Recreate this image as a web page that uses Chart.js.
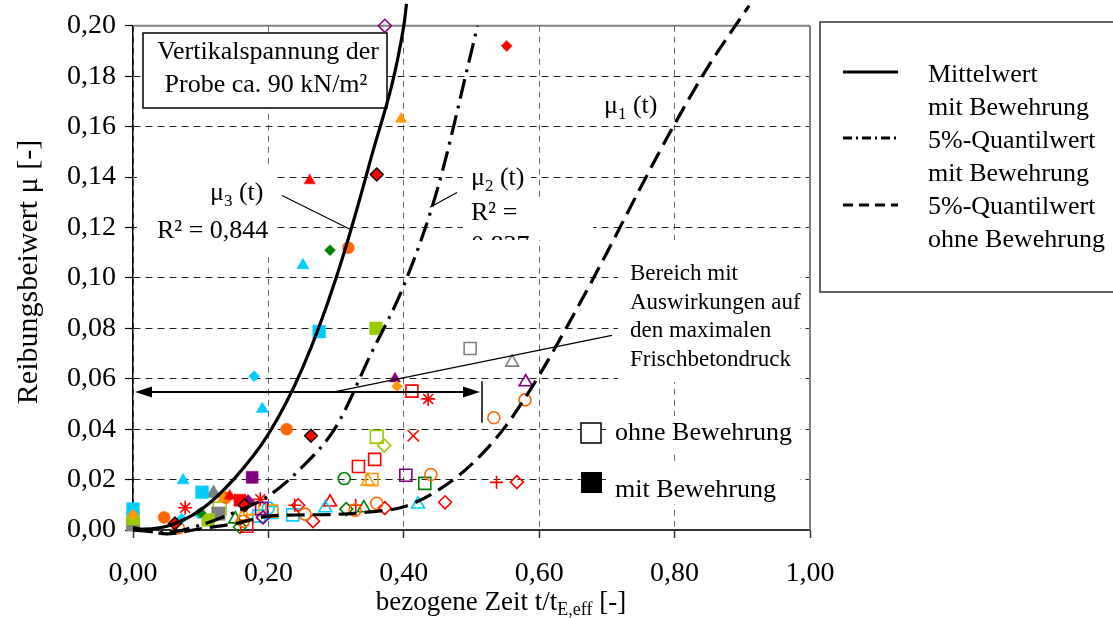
<!DOCTYPE html>
<html lang="de">
<head>
<meta charset="UTF-8">
<title>Reibungsbeiwert über bezogene Zeit</title>
<script src="https://cdn.jsdelivr.net/npm/chart.js"></script>
<style>
  body { margin: 0; background: #fff; }
  #diagramm { display: block; }
</style>
</head>
<body>
<canvas id="diagramm" width="1113" height="618"></canvas>
<script>
  // Messpunkte [t/tE,eff, mu] - mit Bewehrung (gefüllte Marker)
  const rotDreieckMit = [[0.261, 0.1386], [0.143, 0.0135]];
  const rotRauteMit = [[0.552, 0.192]];
  const rotRauteRandMit = [[0.360, 0.141], [0.263, 0.0374], [0.165, 0.0098], [0.062, 0.0026]];
  const rotQuadratMit = [[0.158, 0.0118]];
  const orangeDreieckMit = [[0.396, 0.163], [0.133, 0.0126]];
  const orangeKreisMit = [[0.318, 0.112], [0.227, 0.040], [0.046, 0.005], [0.137, 0.0128]];
  const orangeRauteMit = [[0.390, 0.057], [0.0, 0.006]];
  const gruenRauteMit = [[0.291, 0.111], [0.100, 0.0068]];
  const cyanDreieckMit = [[0.251, 0.105], [0.191, 0.048], [0.074, 0.0197]];
  const cyanQuadratMit = [[0.275, 0.0787], [0.102, 0.015], [0.0, 0.0083]];
  const cyanRauteMit = [[0.179, 0.061], [0.072, 0.0045], [0.097, 0.0065]];
  const limeQuadratMit = [[0.359, 0.080], [0.111, 0.004], [0.0, 0.0045]];
  const lilaQuadratMit = [[0.176, 0.0209]];
  const lilaDreieckMit = [[0.387, 0.060]];
  const lilaRauteMit = [[0.170, 0.0115]];
  const grauDreieckMit = [[0.119, 0.0146]];
  const grauQuadratMit = [[0.126, 0.0065], [0.0, 0.0022]];

  // Messpunkte - ohne Bewehrung (hohle Marker)
  const grauQuadratOhne = [[0.498, 0.072]];
  const grauDreieckOhne = [[0.560, 0.0665]];
  const lilaDreieckOhne = [[0.580, 0.0587]];
  const lilaRauteOhne = [[0.372, 0.200], [0.192, 0.005]];
  const lilaQuadratOhne = [[0.403, 0.0217], [0.190, 0.0085]];
  const orangeKreisOhne = [[0.579, 0.0516], [0.533, 0.0445], [0.440, 0.022], [0.360, 0.0106], [0.328, 0.0079], [0.254, 0.0063], [0.067, 0.0008], [0.163, 0.0035]];
  const rotQuadratOhne = [[0.412, 0.0551], [0.333, 0.0252], [0.357, 0.028], [0.168, 0.0015]];
  const rotSternOhne = [[0.436, 0.052], [0.077, 0.0088], [0.188, 0.0122]];
  const rotKreuzOhne = [[0.414, 0.0374]];
  const limeQuadratOhne = [[0.360, 0.037], [0.128, 0.0085]];
  const limeRauteOhne = [[0.371, 0.0335]];
  const gruenKreisOhne = [[0.312, 0.0204]];
  const orangeQuadratOhne = [[0.353, 0.020], [0.177, 0.0085], [0.205, 0.0075]];
  const orangeDreieckOhne = [[0.347, 0.0193], [0.161, 0.0048]];
  const gruenQuadratOhne = [[0.431, 0.0185]];
  const rotPlusOhne = [[0.537, 0.0189], [0.239, 0.0098], [0.329, 0.0098]];
  const rotRauteOhne = [[0.567, 0.019], [0.461, 0.011], [0.244, 0.0098], [0.266, 0.0035], [0.372, 0.0087]];
  const cyanDreieckOhne = [[0.421, 0.0102], [0.284, 0.0087]];
  const rotDreieckOhne = [[0.291, 0.011]];
  const cyanQuadratOhne = [[0.236, 0.006], [0.205, 0.007], [0.186, 0.0055]];
  const cyanKreisOhne = [[0.200, 0.0088]];
  const gruenRauteOhne = [[0.315, 0.0083], [0.158, 0.0012]];
  const gruenDreieckOhne = [[0.341, 0.0087], [0.151, 0.0043]];

  // Ausgleichskurven mu(t)
  const mu1T = [0, 0.05, 0.10, 0.15, 0.20, 0.25, 0.30, 0.35, 0.40, 0.45, 0.50, 0.55, 0.60, 0.65, 0.70, 0.75, 0.80, 0.85, 0.91];
  const mu1 = [0.001, -0.0015, 0.0005, 0.0025, 0.0055, 0.006, 0.0062, 0.0072, 0.0092, 0.0157, 0.026, 0.041, 0.0614, 0.085, 0.110, 0.136, 0.161, 0.184, 0.208];
  const mu2T = [0, 0.05, 0.10, 0.15, 0.20, 0.25, 0.30, 0.35, 0.40, 0.45, 0.50, 0.509];
  const mu2 = [0, -0.001, 0.002, 0.007, 0.0135, 0.025, 0.041, 0.069, 0.097, 0.1355, 0.19, 0.200];
  const mu3T = [0, 0.05, 0.10, 0.15, 0.20, 0.25, 0.30, 0.35, 0.40, 0.404];
  const mu3 = [0, 0.0015, 0.008, 0.0205, 0.038, 0.064, 0.100, 0.146, 0.200, 0.2087];

  const xTicks = [0, 0.2, 0.4, 0.6, 0.8, 1.0];
  const yTicks = [0, 0.02, 0.04, 0.06, 0.08, 0.10, 0.12, 0.14, 0.16, 0.18, 0.20];

  const ROT = '#ff0000', ORANGE = '#ff6600', HELLORANGE = '#ff9900', GRUEN = '#008000',
        LIME = '#99cc00', CYAN = '#00ccff', LILA = '#800080', GRAU = '#808080';
  const SERIF = '"Liberation Serif", "Times New Roman", serif';
  const schrift = (px) => px + 'px ' + SERIF;

  const serien = [
    { daten: rotDreieckMit, form: 'triangle', farbe: ROT, voll: true, r: 6.5 },
    { daten: rotRauteMit, form: 'rectRot', farbe: ROT, voll: true, r: 5.5 },
    { daten: rotRauteRandMit, form: 'rectRot', farbe: ROT, voll: true, r: 6.5, rand: '#000' },
    { daten: rotQuadratMit, form: 'rect', farbe: ROT, voll: true, r: 8.5 },
    { daten: orangeDreieckMit, form: 'triangle', farbe: HELLORANGE, voll: true, r: 6.5 },
    { daten: orangeKreisMit, form: 'circle', farbe: ORANGE, voll: true, r: 6 },
    { daten: orangeRauteMit, form: 'rectRot', farbe: HELLORANGE, voll: true, r: 5.5 },
    { daten: gruenRauteMit, form: 'rectRot', farbe: GRUEN, voll: true, r: 5.5 },
    { daten: cyanDreieckMit, form: 'triangle', farbe: CYAN, voll: true, r: 7 },
    { daten: cyanQuadratMit, form: 'rect', farbe: CYAN, voll: true, r: 9 },
    { daten: cyanRauteMit, form: 'rectRot', farbe: CYAN, voll: true, r: 5.5 },
    { daten: limeQuadratMit, form: 'rect', farbe: LIME, voll: true, r: 9 },
    { daten: lilaQuadratMit, form: 'rect', farbe: LILA, voll: true, r: 8.5 },
    { daten: lilaDreieckMit, form: 'triangle', farbe: LILA, voll: true, r: 6.5 },
    { daten: lilaRauteMit, form: 'rectRot', farbe: LILA, voll: true, r: 6.5 },
    { daten: grauDreieckMit, form: 'triangle', farbe: GRAU, voll: true, r: 8.5 },
    { daten: grauQuadratMit, form: 'rect', farbe: GRAU, voll: true, r: 9.5 },

    { daten: grauQuadratOhne, form: 'rect', farbe: GRAU, r: 8.5 },
    { daten: grauDreieckOhne, form: 'triangle', farbe: GRAU, r: 7.5 },
    { daten: lilaDreieckOhne, form: 'triangle', farbe: LILA, r: 7.5 },
    { daten: lilaRauteOhne, form: 'rectRot', farbe: LILA, r: 6.5 },
    { daten: lilaQuadratOhne, form: 'rect', farbe: LILA, r: 8.5 },
    { daten: orangeKreisOhne, form: 'circle', farbe: ORANGE, r: 6 },
    { daten: rotQuadratOhne, form: 'rect', farbe: ROT, r: 8.5 },
    { daten: rotSternOhne, form: 'star', farbe: ROT, r: 7 },
    { daten: rotKreuzOhne, form: 'crossRot', farbe: ROT, r: 8 },
    { daten: limeQuadratOhne, form: 'rect', farbe: LIME, r: 9 },
    { daten: limeRauteOhne, form: 'rectRot', farbe: LIME, r: 6.5 },
    { daten: gruenKreisOhne, form: 'circle', farbe: GRUEN, r: 6 },
    { daten: orangeQuadratOhne, form: 'rect', farbe: HELLORANGE, r: 8.5 },
    { daten: orangeDreieckOhne, form: 'triangle', farbe: HELLORANGE, r: 7.5 },
    { daten: gruenQuadratOhne, form: 'rect', farbe: GRUEN, r: 8.5 },
    { daten: rotPlusOhne, form: 'cross', farbe: ROT, r: 6.5 },
    { daten: rotRauteOhne, form: 'rectRot', farbe: ROT, r: 6.5 },
    { daten: cyanDreieckOhne, form: 'triangle', farbe: CYAN, r: 7.5 },
    { daten: rotDreieckOhne, form: 'triangle', farbe: ROT, r: 7.5 },
    { daten: cyanQuadratOhne, form: 'rect', farbe: CYAN, r: 8.5 },
    { daten: cyanKreisOhne, form: 'circle', farbe: CYAN, r: 6 },
    { daten: gruenRauteOhne, form: 'rectRot', farbe: GRUEN, r: 6.5 },
    { daten: gruenDreieckOhne, form: 'triangle', farbe: GRUEN, r: 7.5 }
  ];

  const punkte = (arr) => arr.map(([x, y]) => ({ x, y }));
  const kurve = (ts, ms) => ts.map((t, i) => ({ x: t, y: ms[i] }));

  const datasets = serien.map((s) => ({
    type: 'scatter',
    data: punkte(s.daten),
    pointStyle: s.form,
    pointRadius: s.r,
    pointHoverRadius: s.r,
    pointBackgroundColor: s.voll ? s.farbe : 'rgba(0,0,0,0)',
    pointBorderColor: s.rand || s.farbe,
    pointBorderWidth: s.voll ? (s.rand ? 1.3 : 0.5) : 1.6,
    clip: false,
    order: 2
  }));

  const linie = (daten, dash) => ({
    type: 'line',
    data: daten,
    borderColor: '#000',
    borderWidth: 3.2,
    borderDash: dash,
    pointRadius: 0,
    fill: false,
    cubicInterpolationMode: 'monotone',
    clip: false,
    order: 1
  });
  datasets.push(linie(kurve(mu3T, mu3), []));
  datasets.push(linie(kurve(mu2T, mu2), [20, 7, 3, 7]));
  datasets.push(linie(kurve(mu1T, mu1), [18, 8]));

  // Hilfslinien in Achseneinheiten
  const hinweise = {
    mu3Zeiger: [[0.2201, 0.1327], [0.3235, 0.1189]],
    mu2Zeiger: [[0.4786, 0.1339], [0.4387, 0.1280]],
    bereichZeiger: [[0.2954, 0.0547], [0.7075, 0.0772]],
    pfeilMu: 0.0547, pfeilVon: 0.003, pfeilBis: 0.5155,
    strichVon: 0.0425, strichBis: 0.059
  };

  function textMitIndex(ctx, basis, index, rest, x, y, gr) {
    ctx.font = schrift(gr);
    ctx.fillText(basis, x, y);
    let w = ctx.measureText(basis).width;
    ctx.font = schrift(Math.round(gr * 0.65));
    ctx.fillText(index, x + w, y + gr * 0.22);
    w += ctx.measureText(index).width;
    ctx.font = schrift(gr);
    ctx.fillText(rest, x + w, y);
  }

  function strecke(ctx, x1, y1, x2, y2) {
    ctx.beginPath();
    ctx.moveTo(x1, y1);
    ctx.lineTo(x2, y2);
    ctx.stroke();
  }

  const zusatz = {
    id: 'zusatz',
    beforeDatasetsDraw(chart) {
      const { ctx, chartArea: a } = chart;
      ctx.save();

      // Rahmen oben und rechts
      ctx.strokeStyle = '#808080';
      ctx.lineWidth = 2;
      strecke(ctx, a.left, a.top, a.right, a.top);
      strecke(ctx, a.right, a.top, a.right, a.bottom);

      // Textflächen verdecken das Gitter
      ctx.fillStyle = '#fff';
      [[137, 165, 137, 92], [463, 158, 68, 42], [463, 200, 130, 40],
       [618, 240, 182, 142], [606, 416, 194, 34], [606, 466, 194, 38]]
        .forEach(([l, t, w, h]) => ctx.fillRect(l, t, w, h));

      // Kasten Vertikalspannung
      ctx.fillRect(143, 33, 244, 75);
      ctx.strokeStyle = '#000';
      ctx.lineWidth = 1.5;
      ctx.strokeRect(143, 33, 244, 75);
      ctx.fillStyle = '#000';
      ctx.textAlign = 'center';
      ctx.textBaseline = 'alphabetic';
      ctx.font = schrift(26);
      ctx.fillText('Vertikalspannung der', 268, 59);
      ctx.fillText('Probe ca. 90 kN/m²', 266, 92);

      ctx.textAlign = 'left';
      textMitIndex(ctx, 'μ', '3', ' (t)', 210, 200, 26);
      ctx.font = schrift(26);
      ctx.fillText('R² = 0,844', 157, 238);

      textMitIndex(ctx, 'μ', '2', ' (t)', 471, 185, 26);
      ctx.font = schrift(26);
      ctx.fillText('R² =', 471, 220);
      ctx.save();
      ctx.beginPath();
      ctx.rect(463, 200, 130, 40);
      ctx.clip();
      ctx.fillText('0,837', 471, 253);
      ctx.restore();

      textMitIndex(ctx, 'μ', '1', ' (t)', 604, 113, 26);

      ctx.font = schrift(23);
      ['Bereich mit', 'Auswirkungen auf', 'den maximalen', 'Frischbetondruck']
        .forEach((z, i) => ctx.fillText(z, 630, 280 + i * 28.5));

      // Markerlegende im Diagramm
      ctx.fillStyle = '#fff';
      ctx.fillRect(581, 423, 20, 20);
      ctx.strokeStyle = '#000';
      ctx.lineWidth = 1.5;
      ctx.strokeRect(581, 423, 20, 20);
      ctx.fillStyle = '#000';
      ctx.fillRect(581, 472, 21, 21);
      ctx.font = schrift(26);
      ctx.fillText('ohne Bewehrung', 615, 440);
      ctx.fillText('mit Bewehrung', 615, 497);
      ctx.restore();
    },
    afterDatasetsDraw(chart) {
      const { ctx, scales: { x, y } } = chart;
      const px = (p) => [x.getPixelForValue(p[0]), y.getPixelForValue(p[1])];
      ctx.save();
      ctx.strokeStyle = '#000';
      ctx.lineWidth = 1.2;
      [hinweise.mu3Zeiger, hinweise.mu2Zeiger, hinweise.bereichZeiger].forEach(([p1, p2]) => {
        const [x1, y1] = px(p1);
        const [x2, y2] = px(p2);
        strecke(ctx, x1, y1, x2, y2);
      });

      // Doppelpfeil mit Begrenzungsstrich
      const yP = y.getPixelForValue(hinweise.pfeilMu);
      const xa = x.getPixelForValue(hinweise.pfeilVon);
      const xb = x.getPixelForValue(hinweise.pfeilBis) - 2;
      ctx.lineWidth = 2;
      strecke(ctx, xa + 8, yP, xb - 8, yP);
      ctx.fillStyle = '#000';
      ctx.beginPath();
      ctx.moveTo(xa, yP); ctx.lineTo(xa + 17, yP - 5.5); ctx.lineTo(xa + 17, yP + 5.5);
      ctx.closePath(); ctx.fill();
      ctx.beginPath();
      ctx.moveTo(xb, yP); ctx.lineTo(xb - 17, yP - 5.5); ctx.lineTo(xb - 17, yP + 5.5);
      ctx.closePath(); ctx.fill();
      const xs = x.getPixelForValue(hinweise.pfeilBis);
      ctx.lineWidth = 1.5;
      strecke(ctx, xs, y.getPixelForValue(hinweise.strichBis), xs, y.getPixelForValue(hinweise.strichVon));
      ctx.restore();
    },
    afterDraw(chart) {
      const { ctx } = chart;
      ctx.save();

      // Legende rechts
      ctx.fillStyle = '#fff';
      ctx.fillRect(820, 22, 300, 270);
      ctx.strokeStyle = '#333';
      ctx.lineWidth = 1.5;
      ctx.strokeRect(820, 22, 300, 270);
      ctx.strokeStyle = '#000';
      ctx.lineWidth = 3;
      [[72, []], [138, [9, 4, 2, 4]], [205, [10, 6]]].forEach(([yy, dash]) => {
        ctx.setLineDash(dash);
        strecke(ctx, 843, yy, 898, yy);
      });
      ctx.setLineDash([]);
      ctx.fillStyle = '#000';
      ctx.font = schrift(26);
      ctx.textAlign = 'left';
      ctx.textBaseline = 'alphabetic';
      ['Mittelwert', 'mit Bewehrung', '5%-Quantilwert', 'mit Bewehrung', '5%-Quantilwert', 'ohne Bewehrung']
        .forEach((z, i) => ctx.fillText(z, 928, 82 + i * 33));

      // Achsentitel
      const t1 = 'bezogene Zeit t/t', t2 = 'E,eff', t3 = ' [-]';
      ctx.font = schrift(27);
      const w1 = ctx.measureText(t1).width, w3 = ctx.measureText(t3).width;
      ctx.font = schrift(18);
      const w2 = ctx.measureText(t2).width;
      const x0 = 501 - (w1 + w2 + w3) / 2;
      ctx.font = schrift(27);
      ctx.fillText(t1, x0, 610);
      ctx.font = schrift(18);
      ctx.fillText(t2, x0 + w1, 615);
      ctx.font = schrift(27);
      ctx.fillText(t3, x0 + w1 + w2, 610);

      ctx.translate(37, 272);
      ctx.rotate(-Math.PI / 2);
      ctx.textAlign = 'center';
      ctx.font = schrift(30);
      ctx.fillText('Reibungsbeiwert μ [-]', 0, 0);
      ctx.restore();
    }
  };

  const komma = (v) => Number(v).toFixed(2).replace('.', ',');

  new Chart(document.getElementById('diagramm'), {
    type: 'scatter',
    data: { datasets },
    options: {
      responsive: false,
      animation: false,
      devicePixelRatio: 1,
      layout: { padding: { left: 0, right: 303, top: 22, bottom: 0 } },
      plugins: { legend: { display: false }, tooltip: { enabled: false } },
      scales: {
        x: {
          type: 'linear',
          min: xTicks[0],
          max: xTicks[xTicks.length - 1],
          afterBuildTicks: (s) => { s.ticks = xTicks.map((v) => ({ value: v })); },
          afterFit: (s) => { s.height = 88; },
          ticks: { callback: komma, font: { family: SERIF, size: 28 }, color: '#000', padding: 19, maxRotation: 0 },
          grid: { color: '#666', lineWidth: 1, tickLength: 8, tickColor: '#333', tickWidth: 1.5 },
          border: { color: '#333', width: 2, dash: [6, 5] }
        },
        y: {
          type: 'linear',
          min: yTicks[0],
          max: yTicks[yTicks.length - 1],
          afterBuildTicks: (s) => { s.ticks = yTicks.map((v) => ({ value: v })); },
          afterFit: (s) => { s.width = 133; },
          ticks: { callback: komma, font: { family: SERIF, size: 28 }, color: '#000', padding: 9 },
          grid: { color: '#222', lineWidth: 1, tickLength: 8, tickColor: '#000', tickWidth: 1.2 },
          border: { color: '#000', width: 1.5, dash: [7, 5] }
        }
      }
    },
    plugins: [zusatz]
  });
</script>
</body>
</html>
